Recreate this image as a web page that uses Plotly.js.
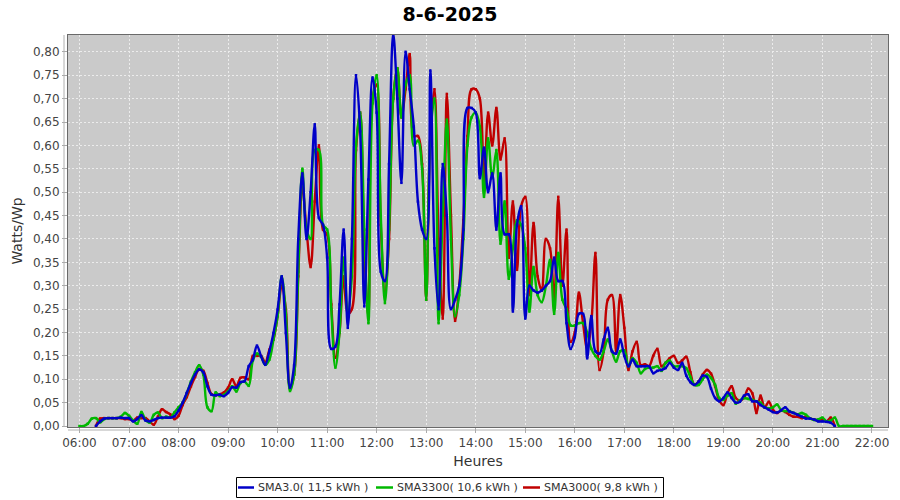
<!DOCTYPE html>
<html>
<head>
<meta charset="utf-8">
<script src="https://cdn.plot.ly/plotly-3.0.1.min.js"></script>
<style>html,body{margin:0;padding:0;background:#fff;}#chart{width:900px;height:500px;}</style>
</head>
<body>
<div id="chart"></div>
<script>
// 5-minute samples from 06:00 to 22:00 (one row per hour)
const day = '2025-06-08';
const startHour = 6, endHour = 22, stepMin = 5;

const sma30 = [
  null,null,null,null,0,0.010,0.016,0.017,0.017,0.017,0.018,0.017,
  0.017,0.010,0.015,0.023,0.012,0.010,0.013,0.017,0.018,0.018,0.018,0.021,
  0.033,0.050,0.071,0.092,0.110,0.121,0.115,0.085,0.067,0.066,0.067,0.064,
  0.071,0.083,0.082,0.094,0.096,0.128,0.142,0.172,0.149,0.131,0.160,0.199,
  0.249,0.320,0.199,0.082,0.130,0.400,0.540,0.400,0.500,0.645,0.445,0.430,
  0.360,0.165,0.170,0.260,0.420,0.210,0.400,0.750,0.630,0.256,0.527,0.745,
  0.670,0.330,0.310,0.560,0.840,0.700,0.520,0.800,0.720,0.640,0.480,0.420,
  0.400,0.760,0.380,0.250,0.560,0.450,0.250,0.270,0.300,0.420,0.680,0.680,
  0.670,0.530,0.595,0.500,0.540,0.420,0.540,0.410,0.410,0.245,0.430,0.470,
  0.230,0.300,0.290,0.285,0.290,0.300,0.310,0.360,0.310,0.310,0.220,0.165,
  0.190,0.240,0.240,0.145,0.235,0.160,0.155,0.185,0.210,0.160,0.155,0.185,
  0.150,0.128,0.142,0.128,0.128,0.128,0.128,0.113,0.118,0.120,0.124,0.135,
  0.125,0.120,0.135,0.108,0.094,0.088,0.095,0.108,0.105,0.080,0.060,0.053,
  0.060,0.072,0.060,0.050,0.052,0.065,0.068,0.053,0.053,0.045,0.040,0.035,
  0.030,0.029,0.034,0.040,0.031,0.028,0.024,0.020,0.016,0.016,0.014,0.010,
  0.010,0.009,0.007,0,null,null,null,null,null,null,null,null,
  null
];

const sma3300 = [
  0,0,0.005,0.016,0.017,0.008,0.015,0.017,0.017,0.017,0.020,0.028,
  0.022,0.012,0.005,0.030,0.013,0.007,0.024,0.029,0.017,0.020,0.018,0.029,
  0.040,0.050,0.070,0.095,0.115,0.130,0.110,0.040,0.032,0.072,0.064,0.067,
  0.074,0.085,0.074,0.092,0.095,0.086,0.140,0.155,0.148,0.131,0.142,0.185,
  0.235,0.320,0.240,0.075,0.110,0.330,0.550,0.420,0.400,0.590,0.590,0.430,
  0.420,0.250,0.125,0.200,0.360,0.240,0.320,0.600,0.670,0.420,0.220,0.690,
  0.750,0.450,0.263,0.420,0.700,0.765,0.660,0.730,0.750,0.600,0.610,0.550,
  0.270,0.620,0.700,0.220,0.450,0.655,0.400,0.235,0.280,0.400,0.600,0.660,
  0.670,0.640,0.490,0.615,0.530,0.590,0.390,0.480,0.315,0.380,0.440,0.430,
  0.380,0.245,0.340,0.280,0.265,0.300,0.355,0.240,0.370,0.270,0.250,0.215,
  0.215,0.220,0.220,0.200,0.165,0.150,0.142,0.160,0.185,0.160,0.138,0.160,
  0.162,0.128,0.145,0.135,0.113,0.122,0.125,0.125,0.128,0.118,0.135,0.140,
  0.128,0.128,0.128,0.124,0.105,0.088,0.088,0.100,0.110,0.103,0.088,0.060,
  0.056,0.065,0.070,0.048,0.055,0.060,0.058,0.056,0.053,0.050,0.040,0.038,
  0.040,0.046,0.034,0.032,0.032,0.028,0.025,0.028,0.024,0.016,0.013,0.014,
  0.018,0.010,0.012,0.018,0,0,0,0,0,0,0,0,
  0
];

const sma3000 = [
  null,null,null,null,0,0.016,0.017,0.017,0.017,0.017,0.017,0.015,
  0.015,0.012,0.018,0.017,0.017,0.010,0.003,0.020,0.036,0.030,0.025,0.015,
  0.022,0.045,0.062,0.085,0.105,0.122,0.118,0.092,0.068,0.066,0.068,0.072,
  0.082,0.100,0.085,0.103,0.104,0.100,0.150,0.150,0.150,0.136,0.163,0.185,
  0.235,0.300,0.250,0.080,0.110,0.320,0.510,0.420,0.340,0.480,0.600,0.420,
  0.410,0.260,0.146,0.200,0.320,0.240,0.250,0.590,0.670,0.380,0.234,0.700,
  0.730,0.430,0.285,0.400,0.700,0.765,0.660,0.720,0.795,0.620,0.620,0.560,
  0.270,0.620,0.720,0.400,0.230,0.710,0.450,0.225,0.300,0.440,0.620,0.720,
  0.720,0.700,0.512,0.670,0.600,0.680,0.570,0.615,0.360,0.480,0.334,0.470,
  0.490,0.280,0.434,0.320,0.290,0.400,0.380,0.270,0.490,0.300,0.420,0.180,
  0.200,0.285,0.220,0.165,0.220,0.370,0.120,0.160,0.270,0.280,0.160,0.280,
  0.210,0.120,0.160,0.180,0.130,0.132,0.128,0.150,0.165,0.128,0.135,0.145,
  0.150,0.135,0.140,0.148,0.115,0.088,0.095,0.110,0.120,0.112,0.085,0.055,
  0.045,0.070,0.085,0.060,0.055,0.060,0.080,0.070,0.028,0.065,0.040,0.052,
  0.035,0.028,0.033,0.030,0.024,0.020,0.020,0.017,0.020,0.016,0.014,0.012,
  0.015,0.010,0.018,0,null,null,null,null,null,null,null,null,
  null
];

const seriesNames = ['SMA3.0( 11,5 kWh )', 'SMA3300( 10,6 kWh )', 'SMA3000( 9,8 kWh )'];
const seriesColors = ['#0000c8', '#00b800', '#c00000'];

// time axis labels (regular 5-minute grid)
const times = [];
for (let m = startHour * 60; m <= endHour * 60; m += stepMin) {
  const hh = String(Math.floor(m / 60)).padStart(2, '0');
  const mm = String(m % 60).padStart(2, '0');
  times.push(day + ' ' + hh + ':' + mm + ':00');
}

function mk(vals, idx) {
  return {
    x: times, y: vals, name: seriesNames[idx], type: 'scatter', mode: 'lines+markers',
    line: {color: seriesColors[idx], width: 2.4, shape: 'spline', smoothing: 1},
    marker: {color: seriesColors[idx], size: 2.5, symbol: 'square'},
    connectgaps: false, hoverinfo: 'skip', showlegend: false
  };
}
// draw red first, blue on top
const data = [mk(sma3000, 2), mk(sma3300, 1), mk(sma30, 0)];

const W = 900, H = 500, L = 68, R = 12, T = 35, B = 73;
const plotW = W - L - R, plotH = H - T - B;
const px = x => (x - L) / plotW;          // pixel -> paper x
const py = y => (H - B - y) / plotH;       // pixel -> paper y

// legend (boxed, bottom centre)
const legendLines = [[238, 254], [376, 393], [523, 540]];
const legendTextX = [256, 395, 542];
const shapes = [
  {type: 'line', xref: 'paper', yref: 'paper', x0: px(64), x1: px(64), y0: 0, y1: 1,
    line: {color: '#b0b0b0', width: 1}},
  {type: 'line', xref: 'paper', yref: 'paper', x0: 0, x1: 1, y0: py(430), y1: py(430),
    line: {color: '#b0b0b0', width: 1}},
  {type: 'rect', xref: 'paper', yref: 'paper', x0: px(236.5), x1: px(663.5), y0: py(477.5), y1: py(497.5),
    line: {color: '#000', width: 1}, fillcolor: 'rgba(0,0,0,0)'}
];
const annotations = [];
for (let i = 0; i < 3; i++) {
  shapes.push({type: 'line', xref: 'paper', yref: 'paper', x0: px(legendLines[i][0]), x1: px(legendLines[i][1]),
    y0: py(487.5), y1: py(487.5), line: {color: seriesColors[i], width: 2.5}});
  annotations.push({xref: 'paper', yref: 'paper', x: px(legendTextX[i]), y: py(487.5), xanchor: 'left', yanchor: 'middle',
    text: seriesNames[i], showarrow: false, font: {size: 11.1, color: '#333'}});
}

const layout = {
  width: W, height: H,
  margin: {l: L, r: R, t: T, b: B, pad: 0},
  paper_bgcolor: '#ffffff', plot_bgcolor: '#cacaca',
  separators: ', ',
  showlegend: false,
  font: {family: 'DejaVu Sans, sans-serif', size: 12, color: '#444'},
  title: {text: '8-6-2025', x: 0.5, xanchor: 'center', y: 1 - 14 / H, yanchor: 'middle', yref: 'container',
    font: {family: 'DejaVu Sans, sans-serif', size: 19, color: '#000', weight: 'bold'}},
  xaxis: {
    type: 'date', range: [day + ' 05:46:06', day + ' 22:19:24'], automargin: false,
    tickformat: '%H:%M', tick0: day + ' 06:00:00', dtick: 3600000,
    showgrid: true, gridcolor: '#ececec', griddash: '2px,2px', gridwidth: 1,
    showline: true, mirror: true, linecolor: '#6a6a6a', linewidth: 1,
    ticks: 'outside', ticklen: 5, tickcolor: '#aaa', zeroline: false,
    tickfont: {size: 12, color: '#444'},
    title: {text: 'Heures', font: {size: 14, color: '#333'}, standoff: 6}
  },
  yaxis: {
    range: [-0.002, 0.836], tick0: 0, dtick: 0.05, tickformat: '.2f', automargin: false,
    showgrid: true, gridcolor: '#ececec', griddash: '2px,2px', gridwidth: 1,
    showline: true, mirror: true, linecolor: '#6a6a6a', linewidth: 1,
    ticks: 'outside', ticklen: 5, tickcolor: '#aaa', zeroline: false,
    tickfont: {size: 12, color: '#444'},
    title: {text: 'Watts/Wp', font: {size: 14, color: '#333'}, standoff: 6}
  },
  shapes: shapes,
  annotations: annotations
};

Plotly.newPlot('chart', data, layout, {staticPlot: true, displayModeBar: false});
</script>
</body>
</html>
